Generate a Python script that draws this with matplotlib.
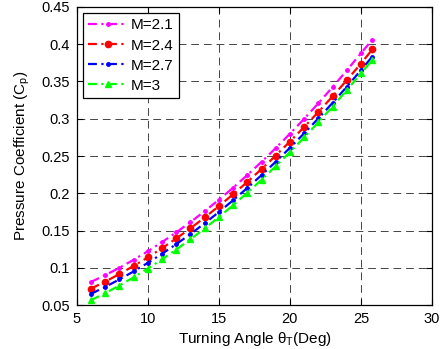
import matplotlib
matplotlib.use("Agg")
import matplotlib.pyplot as plt

theta = [6, 7, 8, 9, 10, 11, 12, 13, 14, 15, 16, 17, 18, 19, 20, 21, 22, 23, 24, 25, 25.8]
cp_m21 = [0.0810, 0.0901, 0.1000, 0.1107, 0.1222, 0.1345, 0.1475, 0.1613, 0.1759, 0.1913, 0.2075,
          0.2244, 0.2421, 0.2606, 0.2799, 0.2999, 0.3208, 0.3424, 0.3648, 0.3880, 0.4060]
cp_m24 = [0.0720, 0.0814, 0.0916, 0.1024, 0.1140, 0.1263, 0.1393, 0.1530, 0.1675, 0.1827, 0.1986,
          0.2152, 0.2325, 0.2506, 0.2694, 0.2889, 0.3091, 0.3300, 0.3517, 0.3741, 0.3930]
cp_m27 = [0.0650, 0.0743, 0.0844, 0.0951, 0.1066, 0.1188, 0.1317, 0.1453, 0.1597, 0.1748, 0.1906,
          0.2071, 0.2243, 0.2423, 0.2610, 0.2804, 0.3005, 0.3213, 0.3429, 0.3652, 0.3835]
cp_m3 = [0.0565, 0.0660, 0.0762, 0.0872, 0.0990, 0.1114, 0.1245, 0.1383, 0.1528, 0.1680, 0.1840,
         0.2007, 0.2181, 0.2363, 0.2552, 0.2749, 0.2953, 0.3164, 0.3383, 0.3609, 0.3790]
labels = ["M=2.1", "M=2.4", "M=2.7", "M=3"]

plt.rcParams['font.family'] = ['Liberation Sans', 'DejaVu Sans']
plt.rcParams['mathtext.fontset'] = 'custom'
plt.rcParams['mathtext.rm'] = 'Liberation Sans'
plt.rcParams['mathtext.it'] = 'Liberation Sans'

fig = plt.figure(figsize=(4.44, 3.49), dpi=100)
ax = fig.add_axes([0.173, 0.126, 0.800, 0.854])

styles = [
    dict(color='#ff00ff', marker='.', markersize=5),
    dict(color='#ff0000', marker='o', markersize=4.5),
    dict(color='#0000ff', marker='.', markersize=5),
    dict(color='#00ff00', marker='^', markersize=4.5),
]
for y, lab, st in zip([cp_m21, cp_m24, cp_m27, cp_m3], labels, styles):
    ax.plot(theta, y, linestyle=(0, (4, 2, 1, 2)), linewidth=1.6, label=lab, **st)

ax.set_xlim(5, 30)
ax.set_ylim(0.05, 0.45)
ax.set_xticks([5, 10, 15, 20, 25, 30])
ax.set_yticks([0.05, 0.1, 0.15, 0.2, 0.25, 0.3, 0.35, 0.4, 0.45])
ax.set_yticklabels(['0.05', '0.1', '0.15', '0.2', '0.25', '0.3', '0.35', '0.4', '0.45'])
ax.grid(True, color='#444444', linestyle=(0, (8, 5)), linewidth=0.7)
ax.tick_params(direction='in', top=True, right=True, labelsize=10.5, length=4, width=0.8,
               colors='black', pad=5)
for s in ax.spines.values():
    s.set_linewidth(0.9)

ax.set_xlabel(r'Turning Angle $\theta_T$(Deg)', fontsize=11, labelpad=3)
ax.set_ylabel(r'Pressure Coefficient (C$_p$)', fontsize=11, labelpad=7)

leg = ax.legend(loc='upper left', fontsize=11, frameon=True, fancybox=False, edgecolor='black',
                framealpha=1, borderaxespad=0.4, handlelength=2.6, borderpad=0.35, numpoints=1,
                labelspacing=0.4, handletextpad=0.2)
leg.get_frame().set_linewidth(0.9)

fig.savefig('out.png', dpi=100)
